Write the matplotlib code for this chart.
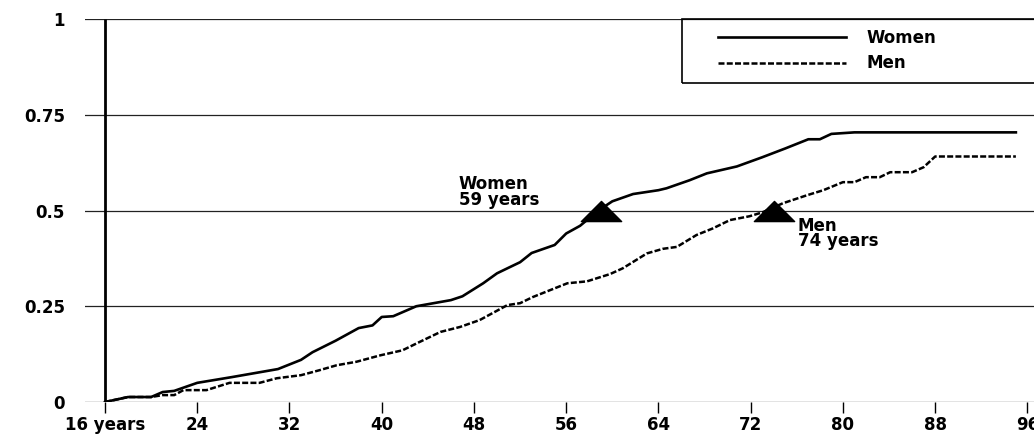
import matplotlib
matplotlib.use("Agg")
import matplotlib.pyplot as plt
from matplotlib.path import Path
from matplotlib.patches import Rectangle
from matplotlib.lines import Line2D

# Cumulative proportion by age
ages_women = [16, 18, 20, 21, 22, 24, 27, 31, 33, 34, 36, 38, 39.2, 40, 41, 43, 46, 47,
              48.8, 50, 51.1, 52, 53, 55, 56, 57.2, 58.8, 60, 61.8, 64, 64.7, 66.7, 68.2,
              70.8, 73, 75, 77, 78, 79, 81, 95]
vals_women = [0, 0.013, 0.013, 0.026, 0.029, 0.05, 0.065, 0.086, 0.11, 0.13, 0.16, 0.193,
              0.2, 0.222, 0.224, 0.25, 0.266, 0.276, 0.31, 0.336, 0.352, 0.365, 0.389, 0.41,
              0.44, 0.46, 0.5, 0.524, 0.543, 0.553, 0.558, 0.579, 0.597, 0.615, 0.639, 0.662,
              0.686, 0.686, 0.70, 0.704, 0.704]

ages_men = [16, 18, 20, 21, 22, 22.8, 24.8, 26.8, 29.4, 30.9, 33, 34.6, 36.1, 37.8, 39.9,
            41.8, 43.3, 45.1, 46.8, 48.5, 50.9, 52, 53.1, 54.6, 56.1, 57.8, 59.8, 60.9, 63,
            64.4, 65.6, 67.3, 68.7, 70.2, 71.9, 73, 74.8, 76.9, 78.3, 80, 81, 82, 83.2, 84.1,
            86, 87, 88, 95]
vals_men = [0, 0.013, 0.013, 0.018, 0.018, 0.031, 0.031, 0.05, 0.05, 0.062, 0.07, 0.083,
            0.096, 0.105, 0.122, 0.135, 0.157, 0.183, 0.196, 0.214, 0.253, 0.258, 0.274,
            0.292, 0.31, 0.315, 0.334, 0.349, 0.388, 0.40, 0.405, 0.436, 0.453, 0.475, 0.485,
            0.495, 0.519, 0.54, 0.553, 0.574, 0.574, 0.587, 0.587, 0.60, 0.60, 0.613, 0.641,
            0.641]

median_women = 59
median_men = 74
median_level = 0.5

x_ticks = [16, 24, 32, 40, 48, 56, 64, 72, 80, 88, 96]
x_ticklabels = ["16 years", "24", "32", "40", "48", "56", "64", "72", "80", "88", "96"]
y_ticks = [0, 0.25, 0.5, 0.75, 1]
y_ticklabels = ["0", "0.25", "0.5", "0.75", "1"]

FONT = dict(family="DejaVu Sans", weight="bold", size=12)

fig = plt.figure(figsize=(10.34, 4.34), dpi=100)
ax = fig.add_axes([85 / 1034, 32 / 434, 949 / 1034, 383 / 434])
ax.set_xlim(16 - 20 / 11.53, 16 + 929 / 11.53)
ax.set_ylim(0, 1)

for s in ax.spines.values():
    s.set_visible(False)

# horizontal reference lines
for yv in y_ticks:
    ax.axhline(yv, color="#222222", lw=0.9, zorder=1)
# vertical axis at the first age
ax.plot([16, 16], [0, 1], color="black", lw=2.0, zorder=3, solid_capstyle="butt")

DASH = (0, (2.4, 0.9))
ax.plot(ages_women, vals_women, color="black", lw=1.9, zorder=4, label="Women")
ax.plot(ages_men, vals_men, color="black", lw=1.8, ls=DASH, zorder=4, label="Men")

# wide triangles at the medians
tri = Path([(-1, -0.5), (1, -0.5), (0, 0.5), (-1, -0.5)],
           [Path.MOVETO, Path.LINETO, Path.LINETO, Path.CLOSEPOLY])
ax.plot([median_women, median_men], [median_level, median_level], ls="none",
        marker=tri, markersize=29, color="black", zorder=5)

ax.text(46.7, 0.548, f"Women\n{median_women} years", ha="left", va="center",
        linespacing=0.82, **FONT)
ax.text(76.1, 0.440, f"Men\n{median_men} years", ha="left", va="center",
        linespacing=0.82, **FONT)

ax.set_xticks(x_ticks)
ax.set_xticklabels(x_ticklabels, **FONT)
ax.set_yticks(y_ticks)
ax.set_yticklabels(y_ticklabels, **FONT)
ax.tick_params(axis="x", length=8, width=1, direction="out", pad=2, color="black")
ax.tick_params(axis="y", length=0, pad=14.4)

# legend box
ax.add_patch(Rectangle(((682 - 85) / 949, (434 - 83 - 32) / 383), 0.5, (83 - 19) / 383,
                       transform=ax.transAxes, fill=False, edgecolor="black", lw=1.2,
                       clip_on=False, zorder=6))
handles = [Line2D([], [], color="black", lw=1.9),
           Line2D([], [], color="black", lw=1.8, ls=DASH)]
leg = ax.legend(handles, ["Women", "Men"], loc="upper left",
                bbox_to_anchor=((718 - 85) / 949, (434 - 29 - 32) / 383),
                frameon=False, handlelength=7.7, handletextpad=1.2, labelspacing=0.45,
                prop=dict(family="DejaVu Sans", weight="bold", size=12),
                borderaxespad=0, borderpad=0)

fig.savefig("out.png", dpi=100)
